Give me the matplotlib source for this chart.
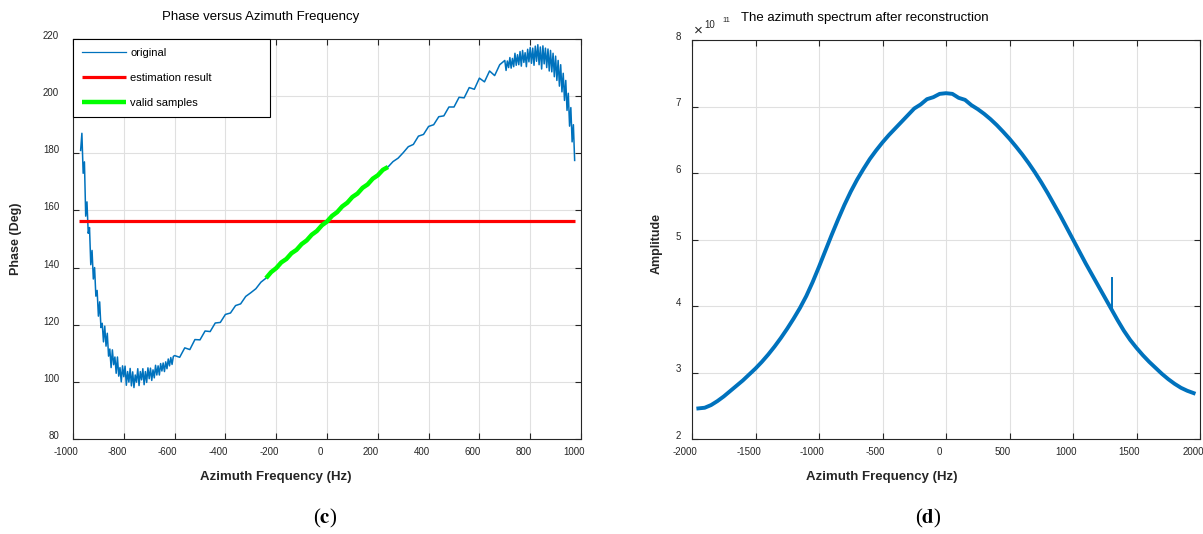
import numpy as np
import matplotlib
matplotlib.use("Agg")
import matplotlib.pyplot as plt
from matplotlib.transforms import ScaledTranslation

plt.rcParams["font.family"] = ["Liberation Sans", "DejaVu Sans"]
plt.rcParams["mathtext.fontset"] = "stix"
plt.rcParams["axes.unicode_minus"] = False

# ---- left panel: phase of the azimuth spectrum ----
freq_a = np.arange(-970, -604, 5)
phase_a = [181, 187, 173, 177, 158, 163, 152, 154, 141, 146,
           136, 140, 130, 132, 123, 128, 119, 120.5, 114, 119.5,
           112.5, 117, 109, 111.5, 105, 111.2, 106, 108.7, 103, 108.7,
           102, 105, 100, 105.6, 101.8, 105.5, 98.8, 103.6, 99.9, 104.7,
           98.6, 103.5, 98, 102.4, 99.9, 104.6, 98.7, 103.6, 100.7, 104.6,
           99, 103.6, 99.8, 104.9, 101.1, 104.8, 100.5, 104.2, 101.4, 105.8,
           102.4, 105.6, 102.4, 106.4, 103.8, 106.6, 103.6, 107, 104.6, 108,
           105.6, 108.5, 106.1, 108.9]
freq_b = np.arange(-600, 681, 20)
phase_b = [109.2, 108.6, 111.9, 111.3, 114.8, 114.7, 117.8, 117.6, 120.6, 120.8,
           123.6, 124.1, 126.7, 127.3, 129.9, 131.2, 132.6, 134.9, 136.3, 138.4,
           139.8, 141.8, 143.0, 145.0, 146.2, 148.2, 149.5, 151.5, 152.8, 154.8,
           156.1, 158.1, 159.4, 161.4, 162.7, 164.7, 165.9, 167.9, 169.1, 171.1,
           172.3, 174.2, 175.2, 177.1, 178.3, 180.2, 182.3, 183.1, 186.0, 186.6,
           189.4, 190.0, 192.8, 193.1, 196.2, 196.2, 199.6, 199.4, 203.0, 202.4,
           206.3, 205.0, 208.8, 207.2, 211.0]
freq_c = np.arange(700, 976, 5)
phase_c = [212.5, 209.0, 212.3, 210.0, 213.5, 209.8, 213.2, 210.3, 215.0, 210.8,
           214.5, 211.0, 215.6, 210.5, 216.0, 211.8, 215.2, 210.3, 216.4, 212.0,
           217.0, 211.5, 216.8, 210.8, 217.5, 212.2, 218.0, 211.0, 217.2, 209.5,
           217.6, 211.3, 216.8, 210.0, 216.5, 208.8, 216.0, 208.5, 215.0, 206.8,
           214.0, 205.5, 212.5, 203.5, 211.0, 201.5, 208.0, 198.5, 205.5, 195.0,
           201.0, 189.5, 196.0, 184.0, 190.0, 177.5]

est_phase = 156.3
est_span = [-975, 975]
valid_span = [-240, 250]

# ---- right panel: reconstructed azimuth spectrum (units of 1e11) ----
freq_r = np.arange(-1950, 1951, 50)
amp_r = [2.46, 2.47, 2.51, 2.57, 2.64, 2.72, 2.80, 2.88, 2.97, 3.06,
         3.16, 3.27, 3.39, 3.52, 3.66, 3.81, 3.97, 4.15, 4.36, 4.59,
         4.83, 5.07, 5.30, 5.52, 5.72, 5.90, 6.06, 6.21, 6.34, 6.46,
         6.57, 6.67, 6.77, 6.87, 6.97, 7.03, 7.11, 7.14, 7.19, 7.20,
         7.19, 7.13, 7.10, 7.02, 6.96, 6.89, 6.81, 6.72, 6.62, 6.515,
         6.40, 6.28, 6.15, 6.01, 5.86, 5.70, 5.53, 5.36, 5.18, 5.00,
         4.82, 4.64, 4.47, 4.30, 4.13, 3.96, 3.79, 3.63, 3.49, 3.37,
         3.26, 3.16, 3.07, 2.98, 2.90, 2.83, 2.77, 2.725, 2.69]
spike_freq = [1305, 1305]
spike_amp = [3.93, 4.42]

freq_l = np.concatenate([freq_a, freq_b, freq_c])
phase_l = np.concatenate([phase_a, phase_b, phase_c])

BLUE = "#0072BD"
TXT = "#262626"

fig = plt.figure(figsize=(12.03, 5.34), dpi=100)
W, H = 1203.0, 534.0
ax1 = fig.add_axes([73 / W, 1 - 439 / H, 508 / W, 400 / H])
ax2 = fig.add_axes([692 / W, 1 - 439 / H, 508 / W, 399 / H])


def style(ax, ypad):
    ax.set_axisbelow(True)
    ax.grid(True, color="#e0e0e0", lw=0.8)
    ax.tick_params(direction="in", length=4, width=0.8, top=True, right=True,
                   colors=TXT, labelsize=7)
    ax.tick_params(axis="x", pad=6)
    ax.tick_params(axis="y", pad=ypad)
    for s in ax.spines.values():
        s.set_color(TXT)
        s.set_linewidth(0.8)
    dx = ScaledTranslation(-7 / 100, 0, fig.dpi_scale_trans)
    for lab in ax.get_xticklabels():
        lab.set_transform(lab.get_transform() + dx)
    dy = ScaledTranslation(0, 4 / 100, fig.dpi_scale_trans)
    for lab in ax.get_yticklabels():
        lab.set_transform(lab.get_transform() + dy)


# left
ax1.plot(freq_l, phase_l, color=BLUE, lw=1.1, label="original")
ax1.plot(est_span, [est_phase, est_phase], color="#FF0000", lw=2.3,
         label="estimation result", solid_capstyle="butt")
mask = (freq_l >= valid_span[0]) & (freq_l <= valid_span[1])
ax1.plot(freq_l[mask], phase_l[mask], color="#00FF00", lw=3.2,
         label="valid samples", solid_capstyle="butt")
ax1.set_xlim(-1000, 1000)
ax1.set_ylim(80, 220)
ax1.set_xticks(np.arange(-1000, 1001, 200))
ax1.set_yticks(np.arange(80, 221, 20))
style(ax1, 10)
leg = ax1.legend(loc="upper left", bbox_to_anchor=(0, 1, 197 / 508, 0),
                 mode="expand", fontsize=8, handlelength=4.0,
                 handletextpad=0.35, labelspacing=1.35, borderpad=0.8,
                 fancybox=False, framealpha=1, borderaxespad=0)
leg.get_frame().set_edgecolor("black")
leg.get_frame().set_linewidth(0.8)
leg.get_lines()[0].set_linewidth(0.9)

ax1.set_xlabel("Azimuth Frequency (Hz)", fontsize=9.5, fontweight="bold",
               color=TXT)
ax1.xaxis.set_label_coords(0.40, -0.079)
ax1.set_ylabel("Phase (Deg)", fontsize=9, fontweight="bold", color=TXT)
ax1.yaxis.set_label_coords(-0.10, 0.5)
ax1.text(0.37, 1.055, "Phase versus Azimuth Frequency", transform=ax1.transAxes,
         ha="center", va="center", fontsize=9.5, color="black")

# right
ax2.plot(freq_r, amp_r, color=BLUE, lw=2.8)
ax2.plot(spike_freq, spike_amp, color=BLUE, lw=1.4)
ax2.set_xlim(-2000, 2000)
ax2.set_ylim(2, 8)
ax2.set_xticks(np.arange(-2000, 2001, 500))
ax2.set_yticks(np.arange(2, 9, 1))
style(ax2, 8)
ax2.set_xlabel("Azimuth Frequency (Hz)", fontsize=9.5, fontweight="bold",
               color=TXT)
ax2.xaxis.set_label_coords(0.373, -0.079)
ax2.set_ylabel("Amplitude", fontsize=9, fontweight="bold", color=TXT)
ax2.yaxis.set_label_coords(-0.058, 0.49)
ax2.text(0.341, 1.055, "The azimuth spectrum after reconstruction",
         transform=ax2.transAxes, ha="center", va="center", fontsize=9.5,
         color="black")

# exponent marker of the amplitude axis
fig.text(698 / W, 1 - 31 / H, "\u00d7", fontsize=11, color=TXT,
         ha="center", va="center")
fig.text(710 / W, 1 - 25 / H, "10", fontsize=7, color=TXT,
         ha="center", va="center")
fig.text(726 / W, 1 - 20 / H, "11", fontsize=5.5, color=TXT,
         ha="center", va="center")

# panel letters
fig.text(325 / W, 1 - 518 / H, r"($\mathbf{c}$)", fontsize=15,
         family="Liberation Serif", ha="center", va="center")
fig.text(928 / W, 1 - 518 / H, r"($\mathbf{d}$)", fontsize=15,
         family="Liberation Serif", ha="center", va="center")

fig.savefig("out.png", dpi=100)
